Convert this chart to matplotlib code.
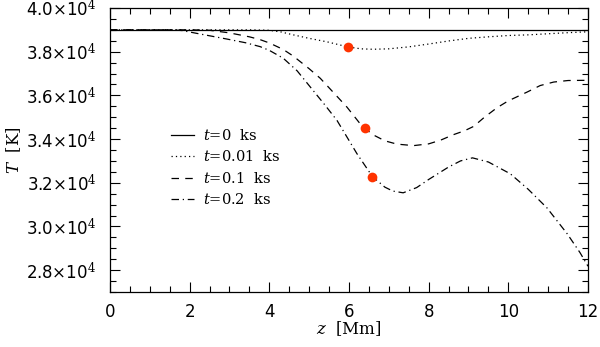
import matplotlib
matplotlib.use("Agg")
import matplotlib.pyplot as plt
from matplotlib.ticker import MultipleLocator, FuncFormatter

# temperature profiles, T in units of 1e4 K
z_t0 = [0, 12]
T_t0 = [3.9, 3.9]

z_t001 = [0, 2, 3.5, 4.0, 4.3, 4.6, 5.0, 5.45, 5.97, 6.3, 6.6, 7.0, 7.5, 8.0, 8.5,
          9.0, 9.5, 10.0, 10.5, 11.0, 11.5, 12.0]
T_t001 = [3.9, 3.9, 3.9, 3.898, 3.89, 3.877, 3.861, 3.845, 3.822, 3.813, 3.811, 3.813,
          3.822, 3.835, 3.849, 3.861, 3.868, 3.874, 3.877, 3.882, 3.887, 3.891]

z_t01 = [0, 2, 2.5, 3.0, 3.5, 3.77, 4.0, 4.35, 4.6, 5.0, 5.28, 5.6, 5.95, 6.28, 6.39,
         6.6, 6.9, 7.2, 7.62, 8.0, 8.3, 8.62, 8.9, 9.13, 9.4, 9.72, 10.0, 10.47, 10.8,
         11.14, 11.5, 12.0]
T_t01 = [3.9, 3.9, 3.898, 3.886, 3.868, 3.855, 3.84, 3.81, 3.78, 3.722, 3.678, 3.615,
         3.546, 3.47, 3.451, 3.42, 3.392, 3.377, 3.37, 3.378, 3.395, 3.42, 3.438, 3.458,
         3.5, 3.544, 3.575, 3.615, 3.645, 3.661, 3.668, 3.669]

z_t02 = [0, 1.5, 1.8, 2.26, 2.93, 3.4, 3.77, 4.0, 4.35, 4.7, 5.03, 5.4, 5.7, 6.2, 6.59,
         6.9, 7.1, 7.36, 7.7, 8.0, 8.5, 8.8, 9.1, 9.5, 10.05, 10.5, 10.97, 11.48, 11.8,
         12.0]
T_t02 = [3.9, 3.9, 3.897, 3.881, 3.858, 3.841, 3.823, 3.806, 3.77, 3.712, 3.638, 3.555,
         3.485, 3.333, 3.228, 3.18, 3.162, 3.154, 3.178, 3.215, 3.272, 3.3, 3.314, 3.295,
         3.241, 3.17, 3.085, 2.966, 2.88, 2.818]

# red markers
z_dots = [5.97, 6.39, 6.59]
T_dots = [3.822, 3.451, 3.228]

labels = [r"$t$=0  ks", r"$t$=0.01  ks", r"$t$=0.1  ks", r"$t$=0.2  ks"]

plt.rcParams['mathtext.fontset'] = 'dejavuserif'
plt.rcParams['font.family'] = 'DejaVu Sans'

fig = plt.figure(figsize=(6, 3.47), dpi=100)
ax = fig.add_axes([0.1833, 0.1585, 0.7967, 0.8185])

lw = 0.9
ax.plot(z_t0, [v * 1e4 for v in T_t0], color='black', lw=lw, ls='-', label=labels[0])
ax.plot(z_t001, [v * 1e4 for v in T_t001], color='black', lw=lw, ls=(0, (1, 2.5)), label=labels[1])
ax.plot(z_t01, [v * 1e4 for v in T_t01], color='black', lw=lw, ls=(0, (6, 5)), label=labels[2])
ax.plot(z_t02, [v * 1e4 for v in T_t02], color='black', lw=lw, ls=(0, (6, 3, 1, 3)), label=labels[3])
ax.plot(z_dots, [v * 1e4 for v in T_dots], 'o', color='#ff3300', ms=7, mec='none', zorder=5)

ax.set_xlim(0, 12)
ax.set_ylim(2.7e4, 4.0e4)
ax.xaxis.set_major_locator(MultipleLocator(2))
ax.xaxis.set_minor_locator(MultipleLocator(0.5))
ax.yaxis.set_major_locator(MultipleLocator(2000))
ax.yaxis.set_minor_locator(MultipleLocator(500))
ax.yaxis.set_major_formatter(FuncFormatter(lambda v, p: f"{v/1e4:.1f}" + r"$\times$10$^4$"))

ax.tick_params(which='both', direction='in', top=True, right=True, labelsize=12, width=0.8)
ax.tick_params(which='major', length=7)
ax.tick_params(axis='x', which='major', pad=8)
ax.tick_params(axis='y', which='major', pad=10)
ax.tick_params(which='minor', length=4)
for s in ax.spines.values():
    s.set_linewidth(0.9)

ax.set_xlabel(r"$z$  [Mm]", fontsize=12, family='DejaVu Serif', labelpad=-1)
ax.set_ylabel(r"$T$  [K]", fontsize=12, family='DejaVu Serif', labelpad=2)

leg = ax.legend(loc='upper left', bbox_to_anchor=(0.1, 0.625), frameon=False,
                handlelength=1.6, handletextpad=0.6, labelspacing=0.45,
                prop={'family': 'DejaVu Serif', 'size': 10.5})

fig.savefig("out.png", dpi=100)
